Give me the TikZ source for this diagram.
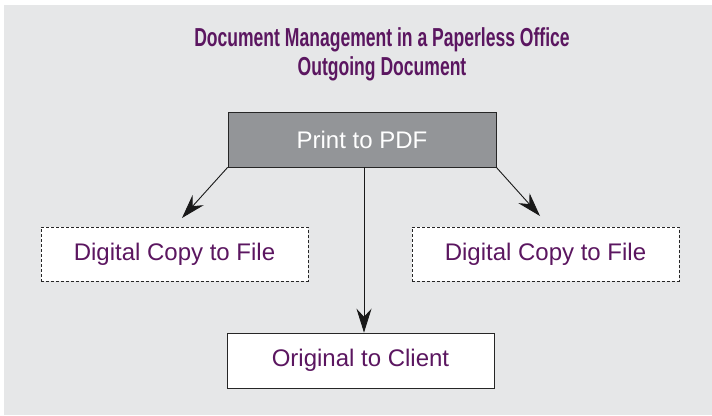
\documentclass[tikz,border=0pt]{standalone}
\usepackage{fontspec}
\setmainfont{Liberation Sans}
\newfontfamily\titlefont[FakeStretch=0.675]{Liberation Sans}
\usetikzlibrary{arrows.meta}
\definecolor{bg}{HTML}{E6E7E8}
\definecolor{boxgray}{HTML}{939598}
\definecolor{purp}{HTML}{5B1660}
\begin{document}
\begin{tikzpicture}[x=1pt,y=-1pt,
  boxfont/.style={font=\fontsize{24}{28}\selectfont},
  titletext/.style={text=purp,anchor=base,inner sep=0pt,font=\titlefont\bfseries\fontsize{26}{30}\selectfont},
  filebox/.style={draw=black!85,line width=0.6pt,dash pattern=on 3pt off 2pt,fill=white,minimum width=267pt,minimum height=54pt,inner sep=0pt,text=purp,boxfont},
  solidbox/.style={draw=black!85,line width=0.6pt,fill=white,minimum width=267pt,minimum height=55pt,inner sep=0pt,text=purp,boxfont},
  arr/.style={draw=black!90,line width=0.9pt,-{Stealth[length=24pt,width=15pt,inset=8pt]}}]
\useasboundingbox (0,0) rectangle (712,415);
\fill[white] (0,0) rectangle (712,415);
\fill[bg] (4,5) rectangle (712,415);
\node[titletext] (title1) at (382,46) {Document Management in a Paperless Office};
\node[titletext] (title2) at (382,75) {Outgoing Document};
\node[draw=black!85,line width=0.6pt,fill=boxgray,minimum width=268pt,minimum height=55pt,inner sep=0pt,text=white,boxfont] (pdf) at (362,139.5) {Print to PDF};
\node[filebox] (left) at (174.5,254) {Digital Copy to File};
\node[filebox] (right) at (545.5,254) {Digital Copy to File};
\node[solidbox] (client) at (360.5,360.5) {Original to Client};
\coordinate (la) at (182,218);
\coordinate (ra) at (540,216);
\draw[arr] (pdf.south west) -- (la);
\draw[arr] (pdf.south east) -- (ra);
\draw[arr] (pdf.south -| 364,0) -- (client.north -| 364,0);
\end{tikzpicture}
\end{document}
